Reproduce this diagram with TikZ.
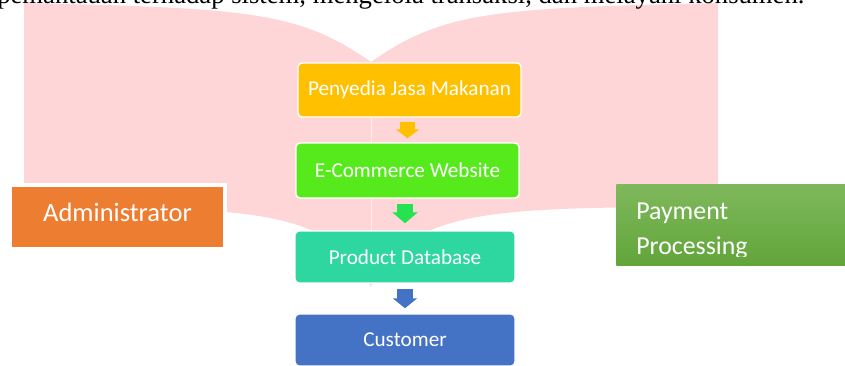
\documentclass[tikz,border=0pt]{standalone}
\usepackage{fontspec}
\setmainfont{Carlito}
\newfontfamily\bodyfont{Liberation Serif}
\usetikzlibrary{arrows.meta}
\definecolor{bookpink}{RGB}{255,214,216}
\definecolor{gold}{RGB}{255,192,0}
\definecolor{lime}{RGB}{86,234,29}
\definecolor{seagreen}{RGB}{46,214,160}
\definecolor{steel}{RGB}{68,114,196}
\definecolor{tangerine}{RGB}{237,125,49}
\definecolor{arrowgreen}{RGB}{36,226,80}
\definecolor{paytop}{RGB}{127,184,92}
\definecolor{paybot}{RGB}{98,165,58}
\tikzstyle{box}=[draw=white,line width=1.1pt,rounded corners=3pt,text=white,inner sep=0pt,font=\fontsize{15.9}{19}\selectfont]
\tikzstyle{to}=[line width=11.25pt,shorten <=3pt]

\begin{document}
\begin{tikzpicture}[x=0.75pt,y=-0.75pt]
\clip (0,0) rectangle (845,365);
% open book behind the flow
\fill [bookpink] (24,3) .. controls (250,8) and (300,12) .. (371,62)
  .. controls (442,12) and (492,8) .. (718,3)
  -- (718,207) .. controls (482,207) and (412,210) .. (371,287)
  .. controls (330,210) and (260,207) .. (24,207) -- cycle;
\draw [white, opacity=0.6, line width=0.75pt] (371,62) -- (371,287);
\node (bodytxt) [anchor=base west, inner sep=0pt, font=\bodyfont\fontsize{20}{23}\selectfont] at (-3,3) {pemantauan terhadap sistem, mengelola transaksi, dan melayani konsumen.};

\node (pjm) [box, fill=gold, minimum width=167.25pt, minimum height=40.5pt] at (409.5,90) {Penyedia Jasa Makanan};
\node (ecw) [box, fill=lime, minimum width=167.25pt, minimum height=41.25pt] at (407.5,170.5) {E-Commerce Website};
\node (pdb) [box, fill=seagreen, minimum width=165pt, minimum height=39pt] at (405,257) {Product Database};
\node (cst) [box, fill=steel, minimum width=165pt, minimum height=39pt] at (405,340) {Customer};
\node (adm) [box, fill=tangerine, line width=3pt, rounded corners=0pt, minimum width=161.25pt, minimum height=48pt, text depth=6.8pt, font=\fontsize{19.9}{24}\selectfont] at (117.5,217) {Administrator};
\node (pay) [anchor=north west, inner sep=0pt, minimum width=183pt, minimum height=60.75pt, top color=paytop, bottom color=paybot] at (616,184) {};
\begin{scope}
\clip (pay.north west) rectangle (860,256);
\node (paytxt) [anchor=north west, align=left, inner sep=0pt, text=white, font=\fontsize{19.4}{26}\selectfont] at (636,203) {Payment\\Processing};
\end{scope}

\draw [to, gold, shorten >=3pt, -{Triangle[width=17.25pt,length=6.75pt]}] (ecw.north |- pjm.south) -- (ecw.north);
\draw [to, arrowgreen, line width=12pt, shorten <=3.75pt, shorten >=5.25pt, -{Triangle[width=18.75pt,length=8.25pt]}] (pdb.north |- ecw.south) -- (pdb.north);
\draw [to, steel, line width=12pt, shorten <=3.75pt, shorten >=3.75pt, -{Triangle[width=18pt,length=7.5pt]}] (pdb.south) -- (cst.north);
\end{tikzpicture}
\end{document}
